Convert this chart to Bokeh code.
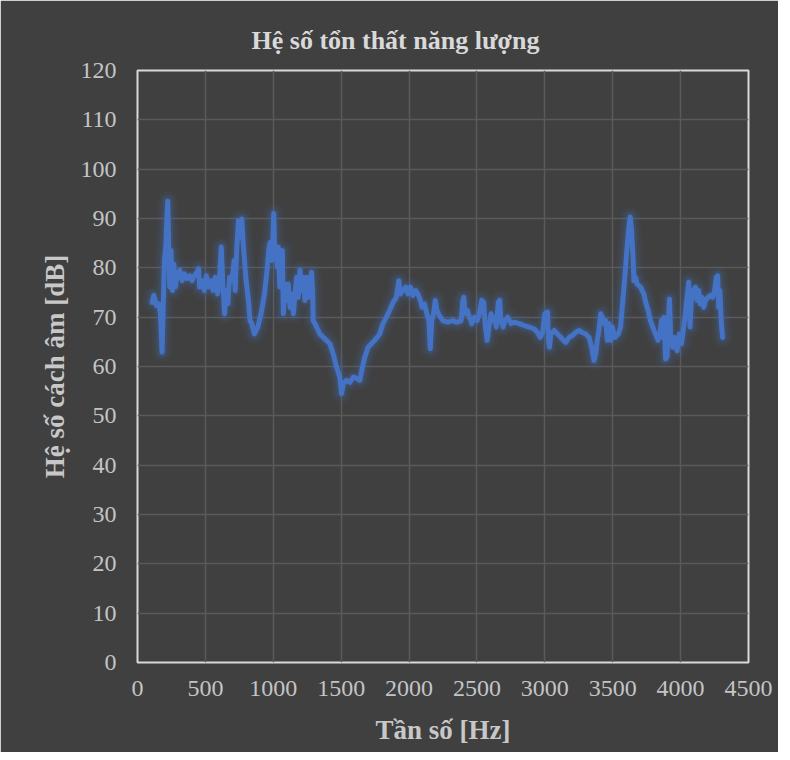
from bokeh.plotting import figure
from bokeh.models import ColumnDataSource, Range1d, FixedTicker
from bokeh.embed import file_html
from bokeh.resources import INLINE

title_text = "Hệ số tổn thất năng lượng"
x_label = "Tần số [Hz]"
y_label = "Hệ số cách âm [dB]"

x_ticks = [0, 500, 1000, 1500, 2000, 2500, 3000, 3500, 4000, 4500]
y_ticks = [0, 10, 20, 30, 40, 50, 60, 70, 80, 90, 100, 110, 120]

freq = [
    108, 120, 139, 157, 169, 181, 188, 198, 208, 218, 223, 230, 237, 247, 257, 267, 279, 291, 311, 328,
    345, 365, 384, 402, 418, 438, 450, 457, 475, 492, 507, 523, 541, 556, 573, 590, 604, 617, 629, 641,
    653, 666, 678, 695, 712, 719, 732, 744, 756, 768, 780, 800, 817, 829, 842, 861, 886, 910, 935, 954,
    969, 979, 989, 996, 1003, 1011, 1020, 1030, 1037, 1048, 1057, 1067, 1074, 1086, 1099, 1111, 1123, 1135, 1148, 1160,
    1172, 1184, 1197, 1209, 1221, 1233, 1246, 1258, 1272, 1282, 1290, 1294, 1307, 1319, 1343, 1380, 1417, 1441, 1466, 1490,
    1503, 1515, 1539, 1564, 1588, 1600, 1637, 1657, 1674, 1698, 1723, 1747, 1784, 1808, 1833, 1857, 1882, 1906, 1925, 1936,
    1955, 1975, 1992, 2009, 2028, 2048, 2065, 2083, 2097, 2114, 2131, 2146, 2156, 2168, 2180, 2193, 2205, 2224, 2249, 2285,
    2322, 2347, 2359, 2384, 2396, 2403, 2413, 2428, 2445, 2462, 2482, 2501, 2518, 2535, 2550, 2560, 2575, 2589, 2604, 2616,
    2628, 2643, 2657, 2667, 2677, 2692, 2707, 2726, 2751, 2775, 2812, 2848, 2885, 2922, 2946, 2966, 2983, 3000, 3020, 3027,
    3034, 3044, 3069, 3093, 3118, 3137, 3154, 3179, 3203, 3228, 3252, 3276, 3301, 3326, 3345, 3362, 3375, 3386, 3399, 3411,
    3423, 3436, 3448, 3460, 3472, 3485, 3497, 3516, 3541, 3558, 3570, 3583, 3595, 3602, 3610, 3619, 3629, 3639, 3649, 3656,
    3668, 3680, 3705, 3729, 3746, 3761, 3778, 3795, 3815, 3834, 3847, 3859, 3869, 3878, 3889, 3901, 3908, 3918, 3927, 3942,
    3957, 3974, 3991, 4006, 4023, 4035, 4047, 4060, 4069, 4079, 4094, 4109, 4121, 4133, 4145, 4158, 4170, 4182, 4201, 4219,
    4236, 4250, 4263, 4273, 4280, 4289, 4300, 4309,
]

db = [
    73.0, 74.4, 72.4, 72.7, 70.7, 62.9, 70.7, 81.5, 84.2, 91.0, 93.5, 84.2, 76.1, 83.5, 75.4, 80.8, 76.1, 78.4, 79.5, 77.4,
    78.8, 77.8, 78.4, 77.4, 78.4, 79.1, 79.8, 76.1, 77.4, 75.4, 78.4, 76.1, 77.4, 75.4, 78.1, 74.7, 77.4, 84.2, 76.7, 70.7,
    75.4, 72.7, 78.1, 77.4, 81.5, 75.4, 84.2, 89.6, 86.2, 89.9, 84.2, 77.4, 73.4, 69.3, 68.7, 66.6, 68.0, 70.7, 74.7, 79.5,
    84.2, 85.2, 81.5, 84.9, 91.0, 82.8, 84.2, 80.1, 84.2, 76.1, 82.8, 83.5, 70.7, 76.7, 73.4, 76.7, 72.0, 74.7, 70.7, 74.7,
    78.1, 74.0, 79.5, 75.4, 78.1, 73.4, 78.1, 74.0, 76.7, 79.1, 75.4, 69.3, 68.7, 68.0, 66.6, 65.6, 64.6, 62.6, 59.9, 57.8,
    54.5, 56.5, 57.2, 56.8, 57.8, 57.8, 57.2, 59.9, 61.9, 63.9, 64.6, 65.3, 66.6, 68.7, 70.0, 71.4, 73.0, 74.0, 77.4, 74.7,
    75.4, 76.1, 74.7, 76.1, 74.4, 75.4, 74.7, 73.4, 72.0, 72.7, 70.7, 69.3, 63.6, 69.3, 70.7, 73.4, 71.4, 70.3, 69.3, 69.0,
    69.3, 69.0, 69.0, 69.3, 73.4, 74.0, 70.7, 71.4, 70.0, 68.7, 70.0, 69.3, 70.7, 73.4, 73.0, 68.7, 65.3, 68.0, 70.7, 69.3,
    70.0, 68.0, 73.0, 73.4, 69.3, 68.0, 69.3, 70.0, 68.7, 69.0, 68.7, 68.3, 68.0, 67.6, 66.9, 65.9, 66.9, 70.7, 71.0, 65.3,
    63.9, 66.6, 67.3, 66.6, 65.9, 65.3, 64.9, 65.9, 66.3, 66.9, 67.3, 66.9, 66.6, 65.9, 63.9, 61.2, 62.6, 65.3, 67.3, 70.7,
    70.0, 68.7, 69.3, 65.3, 68.7, 65.3, 68.0, 65.9, 66.6, 68.0, 72.0, 76.1, 80.1, 82.8, 85.5, 88.2, 90.3, 87.6, 82.2, 77.4,
    78.1, 76.7, 76.1, 74.7, 72.7, 71.4, 69.3, 68.0, 66.6, 65.3, 66.6, 69.3, 65.9, 70.0, 61.5, 62.0, 68.0, 73.7, 65.9, 63.9,
    65.9, 63.2, 66.6, 64.6, 68.0, 70.7, 74.0, 77.1, 68.0, 73.4, 75.4, 76.1, 73.4, 75.4, 72.7, 74.0, 72.0, 73.4, 74.0, 74.4,
    74.0, 75.4, 78.1, 78.4, 72.0, 75.4, 68.7, 65.9,
]

BG = "#404040"
TXT = "#d9d9d9"
LINE = "#4472C4"

src = ColumnDataSource(data=dict(x=freq, y=db))

p = figure(
    width=778, height=752,
    output_backend="svg", toolbar_location=None,
    x_range=Range1d(0, 4500), y_range=Range1d(0, 120),
    background_fill_color=BG, border_fill_color=BG,
    min_border_left=137, min_border_right=30, min_border_top=70, min_border_bottom=90,
)

p.title.text = title_text
p.title.text_font = "Liberation Serif"
p.title.text_font_style = "bold"
p.title.text_font_size = "26px"
p.title.text_color = TXT
p.title.align = "left"
p.title.offset = 114
p.title.standoff = 31

p.outline_line_color = TXT
p.outline_line_width = 2

for ax in (p.xaxis[0], p.yaxis[0]):
    ax.axis_line_color = None
    ax.major_tick_line_color = None
    ax.minor_tick_line_color = None
    ax.major_tick_out = 0
    ax.major_tick_in = 0
    ax.minor_tick_out = 0
    ax.major_label_text_font = "Liberation Serif"
    ax.major_label_text_font_size = "24px"
    ax.major_label_text_color = "#c4c4c4"
    ax.axis_label_text_font = "Liberation Serif"
    ax.axis_label_text_font_style = "bold"
    ax.axis_label_text_font_size = "27px"
    ax.axis_label_text_color = "#c8c8c8"

p.xaxis[0].ticker = FixedTicker(ticks=x_ticks)
p.yaxis[0].ticker = FixedTicker(ticks=y_ticks)
p.xaxis[0].axis_label = x_label
p.yaxis[0].axis_label = y_label
p.xaxis[0].major_label_standoff = 18
p.yaxis[0].major_label_standoff = 21
p.xaxis[0].axis_label_standoff = 16
p.yaxis[0].axis_label_standoff = 8

p.xgrid.ticker = FixedTicker(ticks=x_ticks)
p.ygrid.ticker = FixedTicker(ticks=y_ticks)
p.grid.grid_line_color = "#5a5a5a"
p.grid.grid_line_width = 1.5

# glow layers
for w, a in ((20, 0.06), (14, 0.10), (9, 0.16)):
    p.line("x", "y", source=src, line_color=LINE, line_width=w, line_alpha=a,
           line_join="round", line_cap="round")
p.line("x", "y", source=src, line_color=LINE, line_width=5,
       line_join="round", line_cap="round")

open("out.html", "w").write(file_html(p, INLINE))
